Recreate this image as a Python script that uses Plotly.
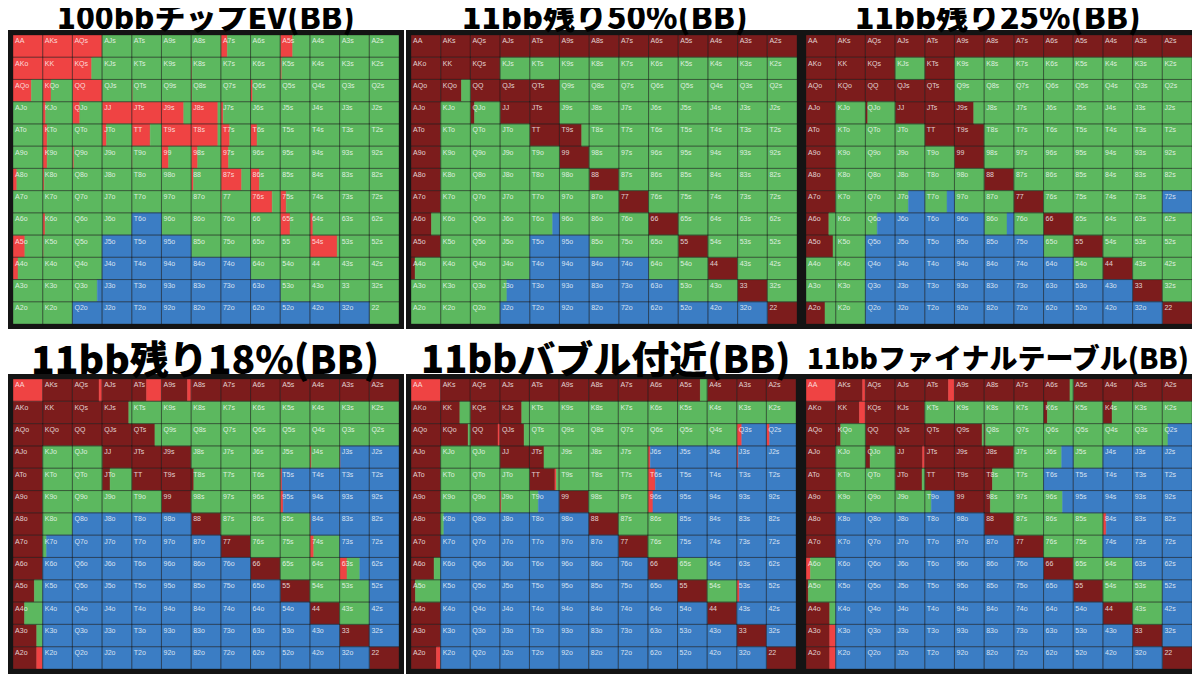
import plotly.graph_objects as go

RANKS = ["A", "K", "Q", "J", "T", "9", "8", "7", "6", "5", "4", "3", "2"]

TITLES = ["100bbチップEV(BB)", "11bb残り50%(BB)", "11bb残り25%(BB)",
          "11bb残り18%(BB)", "11bbバブル付近(BB)", "11bbファイナルテーブル(BB)"]

# each cell: % of width per action, left to right: all-in, raise, call, fold
# call is whatever is left after the others

# 100bb chip EV -- raise (bright red) and fold
ev_raise = [
    [100, 100, 100,   0,   0,   0,   0,  22,   0,  42,   0,   0,   0],
    [100, 100,  65,   0,   0,   0,   3,   0,   0,   5,   0,   0,   0],
    [ 62,  28, 100,   0,   3,   0,   3,   0,   7,   0,   0,   0,   0],
    [  0,  10,  25, 100, 100,  75,  90,   8,   0,   0,   0,   0,   0],
    [  0,  15,   0,  15,  62, 100,  90,  30,  22,   0,   0,   0,   0],
    [  0,  15,   5,   0,   2,  24,  22,  26,   0,   0,   0,   0,   0],
    [ 13,   5,   0,   0,   0,   0,   8,  70,  30,   0,   0,   0,   0],
    [  0,   0,   0,   0,   0,   0,   0,   3,  73,  20,   0,   0,   0],
    [  0,   8,   0,   0,   0,   0,   0,   0,   0,  33,  10,   0,   0],
    [ 40,   3,   0,   0,   0,   0,   0,   0,   0,   0,  92,   0,   0],
    [ 17,   0,   0,   0,   0,   0,   0,   0,   0,   0,   0,   0,   0],
    [  0,   0,   0,   0,   0,   0,   0,   0,   0,   0,   0,   0,   0],
    [  0,   0,   0,   0,   0,   0,   0,   0,   0,   0,   0,   0,   0],
]
ev_fold = [
    [  0,   0,   0,   0,   0,   0,   0,   0,   0,   0,   0,   0,   0],
    [  0,   0,   0,   0,   0,   0,   0,   0,   0,   0,   0,   0,   0],
    [  0,   0,   0,   0,   0,   0,   0,   0,   0,   0,   0,   0,   0],
    [  0,   0,   0,   0,   0,   0,   0,   0,   0,   0,   0,   0,   0],
    [  0,   0,   0,   0,   0,   0,   0,   0,   0,   0,   0,   0,   0],
    [  0,   0,   0,   0,   0,   0,   0,   0,   0,   0,   0,   0,   0],
    [  0,   0,   0,   0,   0,   0,   0,   0,   0,   0,   0,   0,   0],
    [  0,   0,   0,   0,   0,   0,   0,   0,   0,   0,   0,   0,   0],
    [  0,   0,   0,   0, 100,   0,   0,   0,   0,   0,   0,   0,   0],
    [  0,   0,   0, 100, 100, 100,   0,   0,   0,   0,   0,   0,   0],
    [  0,   0,   0, 100, 100, 100, 100, 100,   0,   0,   0,   0,   0],
    [  0,   0,  16, 100, 100, 100, 100, 100, 100,   0,   0,   0,   0],
    [  0,   0, 100, 100, 100, 100, 100, 100, 100, 100, 100, 100,   0],
]

# 11bb, 50% of field left
p50_allin = [
    [100, 100, 100, 100, 100, 100, 100, 100, 100, 100, 100, 100, 100],
    [100, 100, 100,   0,   0,   0,   0,   0,   0,   0,   0,   0,   0],
    [100,  70, 100, 100, 100,   0,   0,   0,   0,   0,   0,   0,   0],
    [100,   0,  14, 100, 100,   0,   0,   0,   0,   0,   0,   0,   0],
    [100,   0,   0,   0, 100,  75,   0,   0,   0,   0,   0,   0,   0],
    [100,   0,   0,   0,   0, 100,   0,   0,   0,   0,   0,   0,   0],
    [100,   0,   0,   0,   0,   0, 100,   0,   0,   0,   0,   0,   0],
    [100,   0,   0,   0,   0,   0,   0, 100,   0,   0,   0,   0,   0],
    [ 69,   0,   0,   0,   0,   0,   0,   0, 100,   0,   0,   0,   0],
    [100,   0,   0,   0,   0,   0,   0,   0,   0, 100,   0,   0,   0],
    [ 14,   0,   0,   0,   0,   0,   0,   0,   0,   0, 100,   0,   0],
    [  0,   0,   0,   0,   0,   0,   0,   0,   0,   0,   0, 100,   0],
    [  0,   0,   0,   0,   0,   0,   0,   0,   0,   0,   0,   0, 100],
]
p50_fold = [
    [  0,   0,   0,   0,   0,   0,   0,   0,   0,   0,   0,   0,   0],
    [  0,   0,   0,   0,   0,   0,   0,   0,   0,   0,   0,   0,   0],
    [  0,   0,   0,   0,   0,   0,   0,   0,   0,   0,   0,   0,   0],
    [  0,   0,   0,   0,   0,   0,   0,   0,   0,   0,   0,   0,   0],
    [  0,   0,   0,   0,   0,   0,   0,   0,   0,   0,   0,   0,   0],
    [  0,   0,   0,   0,   0,   0,   0,   0,   0,   0,   0,   0,   0],
    [  0,   0,   0,   0,   0,   0,   0,   0,   0,   0,   0,   0,   0],
    [  0,   0,   0,   0,   0,   0,   0,   0,   0,   0,   0,   0,   0],
    [  0,   0,   0,   0,  23,   0,   0,   0,   0,   0,   0,   0,   0],
    [  0,   0,   0,   0, 100, 100,   0,   0,   0,   0,   0,   0,   0],
    [  0,   0,   0,   0, 100, 100, 100, 100,   0,   0,   0,   0,   0],
    [  0,   0,   0,  77, 100, 100, 100, 100, 100,   0,   0,   0,   0],
    [  0,   0,   0, 100, 100, 100, 100, 100, 100, 100, 100, 100,   0],
]

# 11bb, 25% left
p25_allin = [
    [100, 100, 100, 100, 100, 100, 100, 100, 100, 100, 100, 100, 100],
    [100, 100, 100,   0, 100,   0,   0,   0,   0,   0,   0,   0,   0],
    [100, 100, 100, 100, 100,   0,   0,   0,   0,   0,   0,   0,   0],
    [100,   0,   8, 100, 100,  65,   0,   0,   0,   0,   0,   0,   0],
    [100,   0,   0,   0, 100, 100,   0,   0,   0,   0,   0,   0,   0],
    [100,   0,   0,   0,   0, 100,   0,   0,   0,   0,   0,   0,   0],
    [100,   0,   0,   0,   0,   0, 100,   0,   0,   0,   0,   0,   0],
    [100,   0,   0,   0,   0,   0,   0, 100,   0,   0,   0,   0,   0],
    [ 77,   0,   0,   0,   0,   0,   0,   0, 100,   0,   0,   0,   0],
    [ 91,   0,   0,   0,   0,   0,   0,   0,   0, 100,   0,   0,   0],
    [  0,   0,   0,   0,   0,   0,   0,   0,   0,   0, 100,   0,   0],
    [  0,   0,   0,   0,   0,   0,   0,   0,   0,   0,   0, 100,   0],
    [ 64,   0,   0,   0,   0,   0,   0,   0,   0,   0,   0,   0, 100],
]
p25_fold = [
    [  0,   0,   0,   0,   0,   0,   0,   0,   0,   0,   0,   0,   0],
    [  0,   0,   0,   0,   0,   0,   0,   0,   0,   0,   0,   0,   0],
    [  0,   0,   0,   0,   0,   0,   0,   0,   0,   0,   0,   0,   0],
    [  0,   0,   0,   0,   0,   0,   0,   0,   0,   0,   0,   0,   0],
    [  0,   0,   0,   0,   0,   0,   0,   0,   0,   0,   0,   0,   0],
    [  0,   0,   0,   0,   0,   0,   0,   0,   0,   0,   0,   0,   0],
    [  0,   0,   0,   0,   0,   0,   0,   0,   0,   0,   0,   0,   0],
    [  0,   0,   0,  55,  25,   0,   0,   0,   0,   0,   0,   0, 100],
    [  0,   0,  60, 100, 100, 100,  23,   0,   0,   0,   0,   0,   0],
    [  0,   0, 100, 100, 100, 100, 100, 100,   0,   0,   0,   0,   0],
    [  0,   0, 100, 100, 100, 100, 100, 100, 100,   0,   0,   0,   0],
    [  0,   0, 100, 100, 100, 100, 100, 100, 100, 100, 100,   0,   0],
    [  0,   0, 100, 100, 100, 100, 100, 100, 100, 100, 100, 100,   0],
]

# 11bb, 18% left
p18_allin = [
    [  0, 100,  90, 100,  50,  88, 100, 100, 100, 100, 100, 100, 100],
    [100, 100, 100,  90,   0,   0,   0,   0,   0,   0,   0,   0,   0],
    [100, 100, 100, 100,  78,   0,   0,   0,   0,   0,   0,   0,   0],
    [100,   0,   0, 100, 100, 100,   0,   0,   0,   0,   0,   0,   0],
    [100,   0,   0,  27, 100, 100,   9,   0,   0,   0,   0,   0,   0],
    [100,   0,   0,   0,   0, 100,   0,   0,   0,   0,   0,   0,   0],
    [100,   0,   0,   0,   0,   0, 100,   0,   0,   0,   0,   0,   0],
    [100,   0,   0,   0,   0,   0,   0, 100,   0,   0,   0,   0,   0],
    [100,   0,   0,   0,   0,   0,   0,   0, 100,   0,   0,   0,   0],
    [ 72,   0,   0,   0,   0,   0,   0,   0,   0, 100,   0,   0,   0],
    [ 39,   0,   0,   0,   0,   0,   0,   0,   0,   0, 100,   0,   0],
    [ 80,   0,   0,   0,   0,   0,   0,   0,   0,   0,   0, 100,   0],
    [ 80,   0,   0,   0,   0,   0,   0,   0,   0,   0,   0,   0, 100],
]
p18_raise = {"AA": 100, "AQs": 10, "ATs": 50, "A9s": 12, "J4s": 5, "J3s": 3,
             "T5s": 6, "95s": 10, "84s": 3, "74s": 13, "63s": 25, "A2o": 20}
p18_fold = [
    [  0,   0,   0,   0,   0,   0,   0,   0,   0,   0,   0,   0,   0],
    [  0,   0,   0,   0,   0,   0,   0,   0,   0,   0,   0,   0,   0],
    [  0,   0,   0,   0,   0,   0,   0,   0,   0,   0,   0,   0,   0],
    [  0,   0,   0,   0,   0,   0,   0,   0,   0,   0,   0,  97, 100],
    [  0,   0,   0,   0,   0,   0,   0,   0,   0,  94, 100, 100, 100],
    [  0,   0,   0,   0,   0,   0,   0,   0,   0,  90, 100, 100, 100],
    [  0,   0, 100, 100, 100, 100,   0,   0,   0,   0,  97, 100, 100],
    [  0,  87, 100, 100, 100, 100, 100,   0,   0,   0,   0, 100, 100],
    [  0, 100, 100, 100, 100, 100, 100, 100,   0,   0,   0,  32, 100],
    [  0, 100, 100, 100, 100, 100, 100, 100, 100,   0,   0,   0, 100],
    [  0, 100, 100, 100, 100, 100, 100, 100, 100, 100,   0,   0, 100],
    [  0, 100, 100, 100, 100, 100, 100, 100, 100, 100, 100,   0, 100],
    [  0, 100, 100, 100, 100, 100, 100, 100, 100, 100, 100, 100,   0],
]

# 11bb near the bubble
bub_allin = [
    [  0, 100, 100, 100, 100, 100, 100, 100, 100,  77, 100, 100, 100],
    [100,  65, 100,  74,   0,   0,   0,   0,   0,   0,   0,   0,   0],
    [100,  93,  94,  82,   0,   0,   0,   0,   0,   0,   0,   0,   0],
    [100,   0,   0, 100,  49,   0,   0,   0,   0,   0,   0,   0,   0],
    [100,   0,   0,   0,  86,   0,   0,   0,   0,   0,   0,   0,   0],
    [100,   0,   0,   0,   0, 100,   0,   0,   0,   0,   0,   0,   0],
    [100,   0,   0,   0,   0,   0, 100,   0,   0,   0,   0,   0,   0],
    [100,   0,   0,   0,   0,   0,   0, 100,   0,   0,   0,   0,   0],
    [ 78,   0,   0,   0,   0,   0,   0,   0, 100,   0,   0,   0,   0],
    [ 15,   0,   0,   0,   0,   0,   0,   0,   0, 100,   0,   0,   0],
    [100,   0,   0,   0,   0,   0,   0,   0,   0,   0, 100,   0,   0],
    [100,   0,   0,   0,   0,   0,   0,   0,   0,   0,   0, 100,   0],
    [ 86,   0,   0,   0,   0,   0,   0,   0,   0,   0,   0,   0, 100],
]
bub_raise = {"AA": 100, "QQ": 6, "Q3s": 17, "Q2s": 11, "J6s": 8, "J3s": 5,
             "TT": 5, "T6s": 25, "J9o": 5, "96s": 17, "53s": 9, "A2o": 14}
bub_fold = [
    [  0,   0,   0,   0,   0,   0,   0,   0,   0,   0,   0,   0,   0],
    [  0,   0,   0,   0,   0,   0,   0,   0,   0,   0,   0,   0,   0],
    [  0,   0,   0,   0,   0,   0,   0,   0,   0,   0,   0,  83,  89],
    [  0,   0,   0,   0,   0,   0,   0,   0,  92, 100, 100,  95, 100],
    [  0,   0,   0,   0,   0,   0,   0,   0,  75, 100, 100, 100, 100],
    [  0,   0,   0,   0,  70,   0,   0,   0,  83, 100, 100, 100, 100],
    [  0,  89, 100, 100, 100, 100,   0,   0,   0, 100, 100, 100, 100],
    [  0, 100, 100, 100, 100, 100, 100,   0,   0, 100, 100, 100, 100],
    [  0, 100, 100, 100, 100, 100, 100, 100,   0,   0, 100, 100, 100],
    [  0, 100, 100, 100, 100, 100, 100, 100, 100,   0,   0,  91, 100],
    [  0, 100, 100, 100, 100, 100, 100, 100, 100, 100,   0, 100, 100],
    [  0, 100, 100, 100, 100, 100, 100, 100, 100, 100, 100,   0, 100],
    [  0, 100, 100, 100, 100, 100, 100, 100, 100, 100, 100, 100,   0],
]

# 11bb final table
ft_allin = [
    [  0,  91, 100, 100,  80, 100, 100, 100,  89, 100, 100, 100, 100],
    [100,  80, 100, 100,   0,   0,   0,   0,  13,   4,  31,   0,   0],
    [100,  17, 100, 100, 100,  93,   5,   0,   0,   0,   0,   0,   0],
    [100,   0,  16,  93, 100, 100, 100,   0,   0,   0,   0,   0,   0],
    [100,   0,   0,  91, 100, 100,  28,   0,   0,   0,   0,   0,   0],
    [100,   0,   0,   0,   0, 100,  21,   0,   0,   0,   0,   0,   0],
    [100,   0,   0,   0,   0,   0, 100,   0,   0,   0,   0,   0,   0],
    [100,   0,   0,   0,   0,   0,   0, 100,   0,   0,   0,   0,   0],
    [  0,   0,   0,   0,   0,   0,   0,   0, 100,   0,   0,   0,   0],
    [  8,   0,   0,   0,   0,   0,   0,   0,   0, 100,   0,   0,   0],
    [ 80,   0,   0,   0,   0,   0,   0,   0,   0,   0, 100,   0,   0],
    [ 80,   0,   0,   0,   0,   0,   0,   0,   0,   0,   0, 100,   0],
    [ 80,   0,   0,   0,   0,   0,   0,   0,   0,   0,   0,   0, 100],
]
ft_raise = {"AA": 100, "AKs": 9, "ATs": 20, "KK": 20, "JJ": 7, "84s": 11,
            "A6o": 15, "A3o": 20, "A2o": 20}
ft_fold = [
    [  0,   0,   0,   0,   0,   0,   0,   0,   0,   0,   0,   0,   0],
    [  0,   0,   0,   0,   0,   0,   0,   0,   0,   0,   0,   0,   0],
    [  0,   0,   0,   0,   0,   0,   0,   0,   0,   0,   0,   0,  81],
    [  0,   0,   0,   0,   0,   0,   0,   0,  39,   0, 100, 100, 100],
    [  0,   0,   0,   0,   0,   0,   0,   0, 100, 100, 100, 100, 100],
    [  0,   0,   0,   0,  78,   0,   0,   0,  36, 100, 100, 100, 100],
    [  0, 100, 100, 100, 100, 100,   0,   0,   0,   0,  89, 100, 100],
    [  0, 100, 100, 100, 100, 100, 100,   0,   0,   0, 100, 100, 100],
    [  0, 100, 100, 100, 100, 100, 100, 100,   0,   0,   0, 100, 100],
    [  0, 100, 100, 100, 100, 100, 100, 100, 100,   0,   0,   0, 100],
    [  0, 100, 100, 100, 100, 100, 100, 100, 100, 100,   0,   0, 100],
    [  0, 100, 100, 100, 100, 100, 100, 100, 100, 100, 100,   0, 100],
    [  0, 100, 100, 100, 100, 100, 100, 100, 100, 100, 100, 100,   0],
]

DARK = "#7c1c1c"
RED = "#ef4343"
GREEN = "#5cb85f"
BLUE = "#3b7dc4"

# cell area of each panel in screen pixels: x0, x1, y0, y1
BOXES = [(13, 399, 35, 324), (411, 797, 35, 324), (806, 1192, 35, 324),
         (13, 399, 379, 669), (411, 796, 379, 669), (806, 1192, 379, 669)]
TITLE_POS = [(206, 15, 31), (605, 15, 32), (998, 15, 32),
             (205, 357, 39), (606, 356, 38), (998, 357, 28)]

# the page body has an 8px margin, so the figure starts at (8, 8)
PAD = 8
W, H = 1200 - PAD, 675 - PAD


def px(x):
    return (x - PAD) / W


def py(y):
    return 1 - (y - PAD) / H


def hand(r, c):
    if r == c:
        return RANKS[r] * 2
    if c > r:
        return RANKS[r] + RANKS[c] + "s"
    return RANKS[c] + RANKS[r] + "o"


zero = [[0] * 13 for _ in range(13)]


def raise_grid(d):
    return [[d.get(hand(r, c), 0) for c in range(13)] for r in range(13)]


panels = [
    (zero, ev_raise, ev_fold),
    (p50_allin, zero, p50_fold),
    (p25_allin, zero, p25_fold),
    (p18_allin, raise_grid(p18_raise), p18_fold),
    (bub_allin, raise_grid(bub_raise), bub_fold),
    (ft_allin, raise_grid(ft_raise), ft_fold),
]

fig = go.Figure()

for k, (allin, rse, fold) in enumerate(panels, start=1):
    xa = "x" if k == 1 else f"x{k}"
    ya = "y" if k == 1 else f"y{k}"
    segs = {DARK: ([], [], []), RED: ([], [], []), GREEN: ([], [], []), BLUE: ([], [], [])}
    for r in range(13):
        for c in range(13):
            a, rz, f = allin[r][c], rse[r][c], fold[r][c]
            call = max(0, 100 - a - rz - f)
            pos = c
            for col, v in ((DARK, a), (RED, rz), (GREEN, call), (BLUE, f)):
                if v > 0:
                    segs[col][0].append(r + 0.5)
                    segs[col][1].append(v / 100)
                    segs[col][2].append(pos)
                    pos += v / 100
    for col, (ys, xs, bs) in segs.items():
        if not ys:
            continue
        fig.add_trace(go.Bar(
            orientation="h", y=ys, x=xs, base=bs, width=1,
            marker=dict(color=col, line=dict(color=col, width=0.5)),
            xaxis=xa, yaxis=ya, hoverinfo="skip", showlegend=False
        ))

    rows = [r + 0.5 for r in range(13) for c in range(13)]
    cols = [c for r in range(13) for c in range(13)]
    fig.add_trace(go.Bar(
        orientation="h", y=rows, x=[1] * len(rows), base=cols, width=1,
        marker=dict(color="rgba(0,0,0,0)", line=dict(color="rgba(25,25,25,0.45)", width=0.8)),
        xaxis=xa, yaxis=ya, hoverinfo="skip", showlegend=False
    ))
    fig.add_trace(go.Scatter(
        x=[c + 0.07 for r in range(13) for c in range(13)],
        y=[r + 0.3 for r in range(13) for c in range(13)],
        text=[hand(r, c) for r in range(13) for c in range(13)],
        mode="text", textposition="middle right",
        textfont=dict(size=7, color="rgba(255,255,255,0.8)", family="Liberation Sans"),
        xaxis=xa, yaxis=ya, hoverinfo="skip", showlegend=False
    ))

    x0, x1, y0, y1 = BOXES[k - 1]
    axis_style = dict(showgrid=False, zeroline=False, showticklabels=False, ticks="",
                      showline=True, mirror=True, linecolor="#141414", linewidth=5,
                      fixedrange=True)
    fig.update_layout(**{
        f"xaxis{'' if k == 1 else k}": dict(domain=[px(x0), px(x1)], range=[0, 13],
                                             anchor=ya, **axis_style),
        f"yaxis{'' if k == 1 else k}": dict(domain=[py(y1), py(y0)], range=[13, 0],
                                             anchor=xa, **axis_style),
    })

    tx, ty, ts = TITLE_POS[k - 1]
    fig.add_annotation(
        x=px(tx), y=py(ty), xref="paper", yref="paper",
        text=TITLES[k - 1], showarrow=False, xanchor="center", yanchor="middle",
        font=dict(family="Noto Sans CJK JP", size=ts, color="black", weight=900)
    )

fig.update_layout(
    width=W, height=H,
    margin=dict(l=0, r=0, t=0, b=0),
    paper_bgcolor="white", plot_bgcolor="white",
    barmode="overlay", showlegend=False
)

fig.write_html("out.html")
